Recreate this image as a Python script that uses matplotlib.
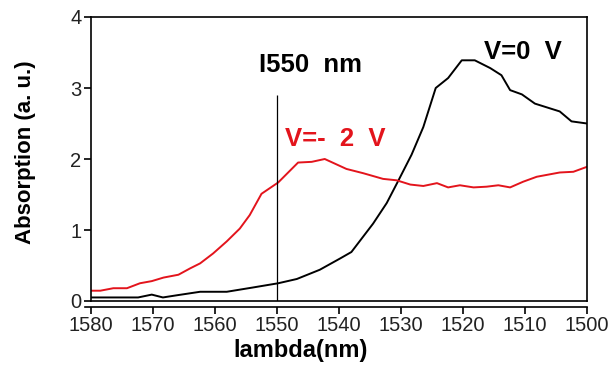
import matplotlib
matplotlib.use('Agg')
import matplotlib.pyplot as plt

plt.rcParams['font.family'] = ['Liberation Sans', 'DejaVu Sans']

# V = 0 V
black_nm = [1580, 1572.4, 1570.2, 1568.4, 1566.2, 1562.4, 1558.1, 1553.9, 1549.8, 1546.8,
            1543.1, 1539.8, 1538, 1534.5, 1532.3, 1530.4, 1528.3, 1526.4, 1524.4, 1522.4,
            1520.2, 1518.1, 1515.6, 1513.8, 1512.4, 1510.5, 1508.4, 1504.4, 1502.5, 1500]
black_abs = [0.05, 0.05, 0.09, 0.05, 0.08, 0.13, 0.13, 0.19, 0.25, 0.31,
             0.44, 0.60, 0.69, 1.09, 1.38, 1.70, 2.06, 2.45, 3.00, 3.14,
             3.39, 3.39, 3.28, 3.18, 2.97, 2.91, 2.78, 2.67, 2.53, 2.50]

# V = -2 V
red_nm = [1580, 1578.5, 1576.4, 1574.2, 1572.1, 1570.2, 1568.3, 1565.9, 1564, 1562.4,
          1560.3, 1558.1, 1556, 1554.4, 1552.5, 1549.8, 1546.6, 1544.4, 1542.3, 1538.8,
          1536.1, 1532.9, 1530.7, 1528.5, 1526.4, 1524.2, 1522.4, 1520.5, 1518.3, 1516.2,
          1514.3, 1512.4, 1510.3, 1508.1, 1504.4, 1502.2, 1500]
red_abs = [0.145, 0.145, 0.18, 0.18, 0.25, 0.28, 0.33, 0.37, 0.46, 0.53,
           0.67, 0.84, 1.02, 1.21, 1.51, 1.67, 1.95, 1.96, 2.00, 1.86,
           1.80, 1.72, 1.70, 1.64, 1.62, 1.66, 1.60, 1.63, 1.60, 1.61,
           1.63, 1.60, 1.68, 1.75, 1.81, 1.82, 1.89]

x_ticks = [1580, 1570, 1560, 1550, 1540, 1530, 1520, 1510, 1500]
y_ticks = [0, 1, 2, 3, 4]

fig = plt.figure(figsize=(6.11, 3.65), dpi=100)
ax = fig.add_axes([91 / 611, 1 - 301 / 365, 496 / 611, 284 / 365])

ax.plot(black_nm, black_abs, color='black', lw=1.4)
ax.plot(red_nm, red_abs, color='#e3141c', lw=1.4)
ax.vlines(1550, 0, 2.9, color='black', lw=0.9)

# annotations
ax.text(1552.9, 3.32, 'I550  nm', fontsize=18.5, fontweight='bold', ha='left', va='center')
ax.text(1548.7, 2.28, 'V=-  2  V', fontsize=18.5, fontweight='bold', color='#e3141c',
        ha='left', va='center')
ax.text(1516.6, 3.51, 'V=0  V', fontsize=18.5, fontweight='bold', ha='left', va='center')

ax.set_xlim(1580, 1500)
ax.set_ylim(0, 4)
ax.set_xticks(x_ticks)
ax.set_yticks(y_ticks)

for s in ax.spines.values():
    s.set_linewidth(1.2)
ax.spines['bottom'].set_position(('outward', 4))
ax.spines['bottom'].set_bounds(1581, 1500)
ax.axhline(0, color='black', lw=1.2, clip_on=False)
ax.tick_params(axis='both', direction='out', length=5, width=1.2,
               labelsize=14.5, labelcolor='#222222', pad=2)

fig.text(301 / 611, 1 - 350 / 365, 'lambda(nm)', fontsize=17, fontweight='bold',
         ha='center', va='center')
fig.text(25 / 611, 1 - 152 / 365, 'Absorption (a. u.)', fontsize=16, fontweight='bold',
         rotation=90, ha='center', va='center')

fig.savefig('out.png', dpi=100)
